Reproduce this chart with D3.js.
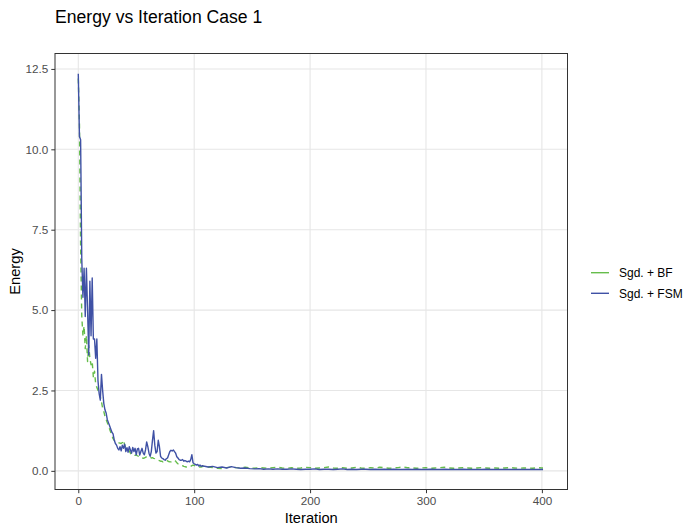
<!DOCTYPE html>
<html><head><meta charset="utf-8">
<script src="https://cdn.jsdelivr.net/npm/d3@7"></script>
<style>body{margin:0;background:#fff;font-family:"Liberation Sans",Arial,sans-serif;}</style>
</head><body>
<svg id="chart" width="697" height="527"></svg>
<script>
// ---- data ----
const seriesNames = ["Sgd. + BF", "Sgd. + FSM"];
const xTicks = [0, 100, 200, 300, 400];
const yTicks = [0, 2.5, 5, 7.5, 10, 12.5];
// iterations: every step 0..107, then every 4 steps
const iterEarly = d3.range(0, 108);
const iterTail = d3.range(108, 401, 4).concat([401]);
const iterations = iterEarly.concat(iterTail);

const fsmEarly = [
12.35,10.4,10.3,6.6,5.4,6.3,4.8,6.3,5.0,3.6,
5.9,4.2,6.0,4.1,4.1,3.5,4.1,2.8,2.4,2.2,
3.0,2.5,2.1,1.9,1.8,1.6,1.5,1.4,1.3,1.2,
1.15,0.96,0.85,0.8,0.7,0.65,0.75,0.62,0.8,0.7,
0.83,0.6,0.72,0.58,0.75,0.65,0.55,0.73,0.6,0.7,
0.5,0.68,0.7,0.49,0.6,0.7,0.55,0.5,0.65,0.9,
0.75,0.55,0.45,0.6,0.95,1.25,0.8,0.55,0.6,0.95,
0.75,0.45,0.4,0.38,0.35,0.33,0.38,0.4,0.5,0.6,
0.64,0.62,0.65,0.6,0.55,0.44,0.4,0.35,0.33,0.33,
0.35,0.3,0.32,0.3,0.28,0.3,0.28,0.35,0.5,0.25,
0.22,0.2,0.18,0.2,0.15,0.18,0.14,0.16];
const fsmTail = [
0.15,0.12,0.14,0.1,0.12,0.09,0.13,0.1,0.08,0.09,
0.07,0.06,0.07,0.05,0.06,0.05,0.06,0.05,0.05,0.06,
0.05,0.04,0.05,0.05,0.06,0.04,0.05,0.05,0.04,0.05,
0.06,0.04,0.05,0.04,0.05,0.05,0.04,0.05,0.04,0.05,
0.04,0.05,0.04,0.04,0.05,0.04,0.05,0.04,0.04,0.05,
0.04,0.04,0.05,0.04,0.04,0.04,0.05,0.04,0.04,0.04,
0.04,0.05,0.04,0.04,0.04,0.04,0.04,0.04,0.04,0.04,
0.04,0.04,0.04,0.04,0.04];

const bfEarly = [
12.2,10.8,7.0,4.8,4.2,4.5,3.8,4.2,3.4,3.9,
3.5,3.3,3.4,2.9,3.1,2.7,2.6,2.5,2.5,2.3,
2.15,1.95,1.85,1.7,1.6,1.5,1.4,1.3,1.2,1.1,
1.0,0.95,0.92,0.9,0.88,0.87,0.86,0.85,0.88,0.95,
0.8,0.72,0.68,0.65,0.62,0.55,0.5,0.49,0.5,0.48,
0.5,0.47,0.45,0.42,0.4,0.41,0.39,0.4,0.42,0.44,
0.45,0.44,0.42,0.4,0.41,0.39,0.38,0.36,0.34,0.33,
0.32,0.3,0.3,0.28,0.3,0.32,0.33,0.31,0.29,0.28,
0.28,0.3,0.32,0.33,0.3,0.25,0.22,0.2,0.18,0.17,
0.16,0.14,0.13,0.12,0.12,0.13,0.12,0.14,0.16,0.18,
0.17,0.15,0.14,0.13,0.13,0.12,0.12,0.13];
const bfTail = [
0.14,0.12,0.1,0.08,0.07,0.1,0.12,0.1,0.09,0.11,
0.09,0.08,0.1,0.09,0.08,0.1,0.11,0.09,0.08,0.1,
0.08,0.09,0.11,0.1,0.08,0.09,0.1,0.12,0.09,0.08,
0.1,0.08,0.09,0.11,0.09,0.08,0.1,0.09,0.11,0.1,
0.08,0.09,0.1,0.12,0.1,0.09,0.08,0.09,0.1,0.08,
0.09,0.1,0.11,0.09,0.08,0.09,0.1,0.09,0.08,0.09,
0.1,0.09,0.08,0.09,0.08,0.09,0.1,0.09,0.08,0.09,
0.09,0.08,0.1,0.09,0.09];

const bfValues = bfEarly.concat(bfTail);
const fsmValues = fsmEarly.concat(fsmTail);
const colors = ["#66BD4C", "#3F51A5"];

// ---- layout ----
const svg = d3.select("#chart");
const P = {left: 55, right: 567.5, top: 53.5, bottom: 489.5};
const x = d3.scaleLinear().domain([-20.1, 422.1]).range([P.left, P.right]);
const y = d3.scaleLinear().domain([-0.58, 12.98]).range([P.bottom, P.top]);

// gridlines
const g = svg.append("g");
g.selectAll(".gx").data(xTicks).join("line")
  .attr("x1", d => x(d)).attr("x2", d => x(d))
  .attr("y1", P.top).attr("y2", P.bottom)
  .attr("stroke", "#E6E6E6").attr("stroke-width", 1.1);
g.selectAll(".gy").data(yTicks).join("line")
  .attr("y1", d => y(d)).attr("y2", d => y(d))
  .attr("x1", P.left).attr("x2", P.right)
  .attr("stroke", "#E6E6E6").attr("stroke-width", 1.1);

// lines
const clip = svg.append("clipPath").attr("id", "clip").append("rect")
  .attr("x", P.left).attr("y", P.top).attr("width", P.right - P.left).attr("height", P.bottom - P.top);
const line = d3.line().x(d => x(d[0])).y(d => y(d[1]));
const bfData = iterations.map((it, i) => [it, bfValues[i]]);
const fsmData = iterations.map((it, i) => [it, fsmValues[i]]);
const lg = svg.append("g").attr("clip-path", "url(#clip)");
lg.append("path").datum(bfData).attr("d", line)
  .attr("fill", "none").attr("stroke", colors[0]).attr("stroke-width", 1.4)
  .attr("stroke-dasharray", "5,4").attr("stroke-linejoin", "round");
lg.append("path").datum(fsmData).attr("d", line)
  .attr("fill", "none").attr("stroke", colors[1]).attr("stroke-width", 1.4)
  .attr("stroke-linejoin", "round");

// panel border
svg.append("rect").attr("x", P.left).attr("y", P.top)
  .attr("width", P.right - P.left).attr("height", P.bottom - P.top)
  .attr("fill", "none").attr("stroke", "#333333").attr("stroke-width", 1);

// axes
const xAxis = d3.axisBottom(x).tickValues(xTicks).tickSize(3.7).tickPadding(3).tickFormat(d3.format("d"));
const yAxis = d3.axisLeft(y).tickValues(yTicks).tickSize(3.7).tickPadding(3).tickFormat(d3.format(".1f"));
const ax = svg.append("g").attr("transform", `translate(0,${P.bottom})`).call(xAxis);
const ay = svg.append("g").attr("transform", `translate(${P.left},0)`).call(yAxis);
[ax, ay].forEach(a => {
  a.select(".domain").remove();
  a.selectAll(".tick line").attr("stroke", "#333333");
  a.selectAll(".tick text").attr("fill", "#4D4D4D")
    .style("font-family", "'Liberation Sans', Arial, sans-serif").style("font-size", "11.7px");
});

// titles
svg.append("text").attr("x", 55).attr("y", 23).text("Energy vs Iteration Case 1")
  .style("font-size", "17.6px").attr("fill", "#000");
svg.append("text").attr("x", (P.left + P.right) / 2).attr("y", 523)
  .attr("text-anchor", "middle").text("Iteration").style("font-size", "14.7px");
svg.append("text").attr("transform", `translate(20,${(P.top + P.bottom) / 2}) rotate(-90)`)
  .attr("text-anchor", "middle").text("Energy").style("font-size", "14.7px");

// legend
const leg = svg.append("g");
seriesNames.forEach((name, i) => {
  const yy = 272.7 + i * 20.6;
  leg.append("line").attr("x1", 591).attr("x2", 609).attr("y1", yy).attr("y2", yy)
    .attr("stroke", colors[i]).attr("stroke-width", 1.4);
  leg.append("text").attr("x", 619).attr("y", yy + 4.3).text(name)
    .style("font-size", "12px").attr("fill", "#000");
});
</script>
</body></html>
